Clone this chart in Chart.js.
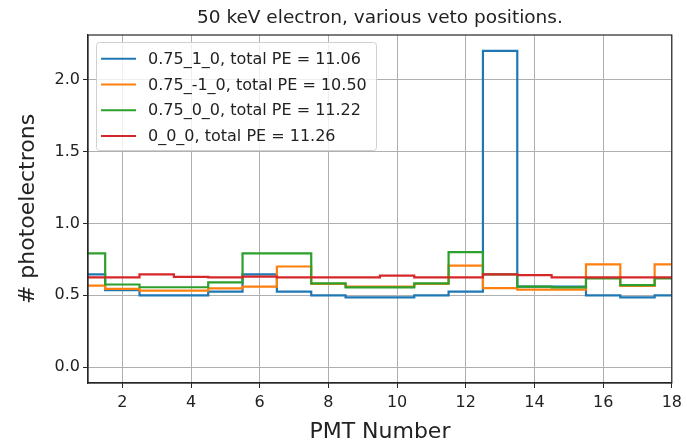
<!DOCTYPE html>
<html>
<head>
<meta charset="utf-8">
<script src="https://cdn.jsdelivr.net/npm/chart.js@4.4.0/dist/chart.umd.min.js"></script>
<style>
  html, body { margin: 0; padding: 0; background: #fff; }
</style>
</head>
<body>
<canvas id="grafico" width="687" height="443"></canvas>
<script>
// Datos: fotoelectrones por PMT para cada posición del veto
var pmt = [1, 2, 3, 4, 5, 6, 7, 8, 9, 10, 11, 12, 13, 14, 15, 16, 17, 18];
var etiquetas = [
  '0.75_1_0, total PE = 11.06',
  '0.75_-1_0, total PE = 10.50',
  '0.75_0_0, total PE = 11.22',
  '0_0_0, total PE = 11.26'
];
var pos_075_1_0  = [0.646, 0.535, 0.50, 0.50, 0.525, 0.645, 0.525, 0.50, 0.486, 0.486, 0.50, 0.525, 2.20, 0.56, 0.56, 0.50, 0.486, 0.50];
var pos_075_m1_0 = [0.567, 0.545, 0.533, 0.533, 0.548, 0.56, 0.70, 0.58, 0.56, 0.56, 0.58, 0.706, 0.55, 0.54, 0.54, 0.715, 0.565, 0.715];
var pos_075_0_0  = [0.792, 0.575, 0.556, 0.556, 0.59, 0.792, 0.792, 0.583, 0.555, 0.555, 0.583, 0.80, 0.645, 0.56, 0.555, 0.618, 0.57, 0.618];
var pos_0_0_0    = [0.625, 0.625, 0.645, 0.628, 0.625, 0.63, 0.625, 0.625, 0.625, 0.637, 0.625, 0.625, 0.645, 0.64, 0.625, 0.625, 0.625, 0.625];
var colores = ['#1f77b4', '#ff7f0e', '#2ca02c', '#d62728'];
var ticksX = [2, 4, 6, 8, 10, 12, 14, 16, 18];
var ticksY = [0, 0.5, 1.0, 1.5, 2.0];

var series = [pos_075_1_0, pos_075_m1_0, pos_075_0_0, pos_0_0_0];

var fuente = '"DejaVu Sans", sans-serif';

// Titulo, marco de los ejes y leyenda dentro del area (como matplotlib)
var extras = {
  id: 'extras',
  afterDatasetsDraw: function(chart) {
    var a = chart.chartArea;
    var ctx = chart.ctx;
    ctx.save();
    ctx.strokeStyle = '#262626';
    ctx.lineWidth = 1.2;
    ctx.strokeRect(a.left, a.top, a.right - a.left, a.bottom - a.top);

    ctx.fillStyle = '#222';
    ctx.font = '18.5px ' + fuente;
    ctx.textAlign = 'center';
    ctx.textBaseline = 'middle';
    ctx.fillText('50 keV electron, various veto positions.', (a.left + a.right) / 2, 18);

    // leyenda
    var x0 = 96.5, y0 = 42.5, w = 280, h = 108;
    ctx.beginPath();
    ctx.roundRect(x0, y0, w, h, 3);
    ctx.fillStyle = 'rgba(255,255,255,0.8)';
    ctx.fill();
    ctx.strokeStyle = '#d0d0d0';
    ctx.lineWidth = 1;
    ctx.stroke();
    ctx.font = '16px ' + fuente;
    ctx.textAlign = 'left';
    chart.data.datasets.forEach(function(ds, i) {
      var y = 58.7 + i * 25.8;
      ctx.beginPath();
      ctx.moveTo(101, y);
      ctx.lineTo(136, y);
      ctx.strokeStyle = ds.borderColor;
      ctx.lineWidth = 2;
      ctx.stroke();
      ctx.fillStyle = '#222';
      ctx.fillText(ds.label, 148, y + 1);
    });
    ctx.restore();
  }
};

var datasets = series.map(function(serie, i) {
  return {
    label: etiquetas[i],
    data: pmt.map(function(p, j) { return {x: p, y: serie[j]}; }),
    borderColor: colores[i],
    backgroundColor: colores[i],
    borderWidth: 2.2,
    pointRadius: 0,
    stepped: 'middle',
    fill: false,
    order: series.length - i
  };
});

var grafico = new Chart(document.getElementById('grafico').getContext('2d'), {
  type: 'line',
  data: { datasets: datasets },
  options: {
    responsive: false,
    animation: false,
    layout: { padding: { top: 35, right: 11, left: 0, bottom: 0 } },
    plugins: {
      legend: { display: false },
      title: { display: false },
      tooltip: { enabled: false }
    },
    scales: {
      x: {
        type: 'linear',
        min: 1,
        max: 18,
        afterBuildTicks: function(escala) {
          escala.ticks = ticksX.map(function(v) { return {value: v}; });
        },
        afterFit: function(escala) { escala.height = 60; },
        grid: { color: '#b0b0b0', lineWidth: 1, tickLength: 5, tickColor: '#262626' },
        border: { display: true, color: '#262626', width: 1.2 },
        ticks: {
          color: '#222',
          font: { family: fuente, size: 16 },
          padding: 5,
          maxRotation: 0,
          autoSkip: false
        },
        title: {
          display: true,
          text: 'PMT Number',
          color: '#222',
          font: { family: fuente, size: 22, lineHeight: 1 },
          padding: { top: 0, bottom: 0 }
        }
      },
      y: {
        min: -0.11,
        max: 2.31,
        afterBuildTicks: function(escala) {
          escala.ticks = ticksY.map(function(v) { return {value: v}; });
        },
        afterFit: function(escala) { escala.width = 88; },
        grid: { color: '#b0b0b0', lineWidth: 1, tickLength: 5, tickColor: '#262626' },
        border: { display: true, color: '#262626', width: 1.2 },
        ticks: {
          color: '#222',
          font: { family: fuente, size: 16 },
          padding: 3,
          callback: function(v) { return v.toFixed(1); }
        },
        title: {
          display: true,
          text: '# photoelectrons',
          color: '#222',
          font: { family: fuente, size: 22, lineHeight: 1.2 },
          padding: { top: 15, bottom: 0 }
        }
      }
    }
  },
  plugins: [extras]
});
</script>
</body>
</html>
